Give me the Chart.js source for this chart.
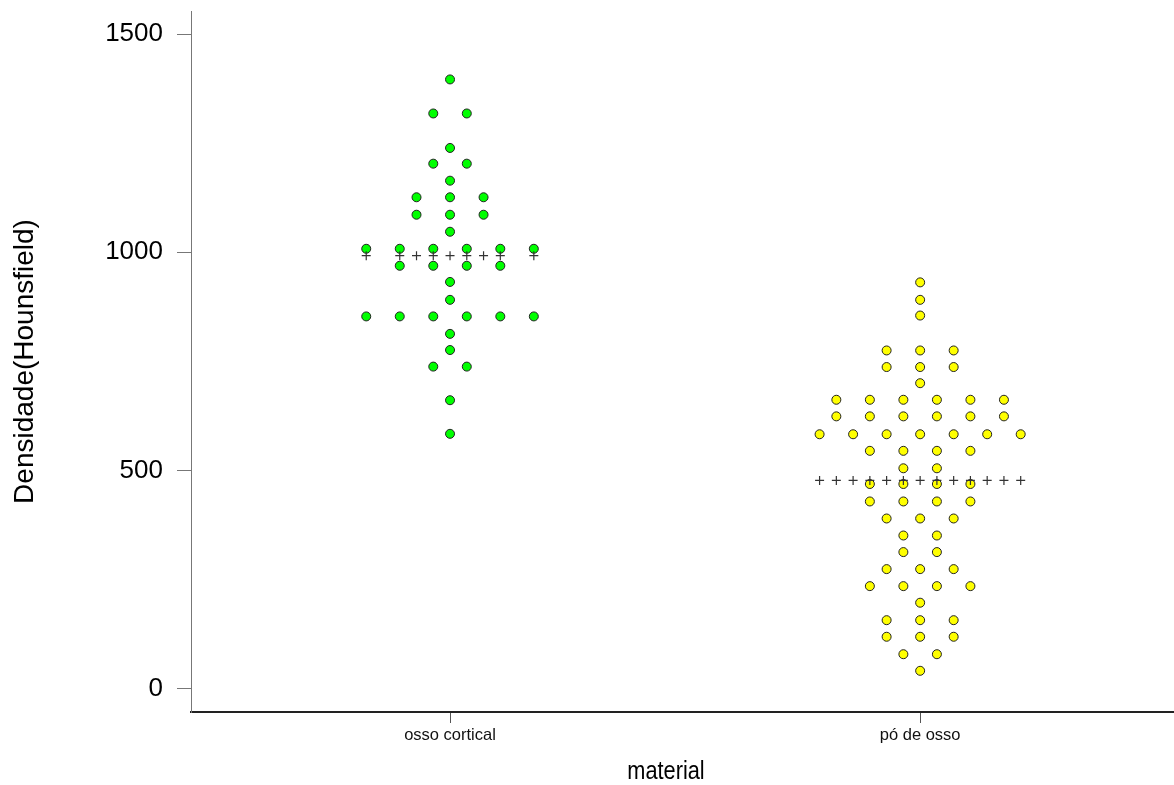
<!DOCTYPE html>
<html>
<head>
<meta charset="utf-8">
<script src="https://cdn.jsdelivr.net/npm/chart.js@4/dist/chart.umd.min.js"></script>
<style>
  html, body { margin: 0; padding: 0; background: #fff; }
  #wrap { width: 1174px; height: 785px; }
</style>
</head>
<body>
<div id="wrap"><canvas id="c" width="1174" height="785"></canvas></div>
<script>
// Densidade (Hounsfield) por material — one value per specimen
const categories = ['osso cortical', 'pó de osso'];

const ossoCortical = [
  1396, 1318, 1318, 1239, 1203, 1203, 1164,
  1126, 1126, 1126, 1086, 1086, 1086, 1047,
  1008, 1008, 1008, 1008, 1008, 1008,
  969, 969, 969, 969, 932, 891,
  853, 853, 853, 853, 853, 853,
  813, 776, 738, 738, 661, 584
];

const poDeOsso = [
  931, 891, 855, 775, 775, 775, 737, 737, 737, 700,
  662, 662, 662, 662, 662, 662,
  624, 624, 624, 624, 624, 624,
  583, 583, 583, 583, 583, 583, 583,
  545, 545, 545, 545, 505, 505,
  469, 469, 469, 469, 429, 429, 429, 429,
  390, 390, 390, 351, 351, 313, 313,
  274, 274, 274, 235, 235, 235, 235, 197,
  157, 157, 157, 119, 119, 119, 79, 79, 41
];

const yTicks = [0, 500, 1000, 1500];
const yTitle = 'Densidade(Hounsfield)';
const xTitle = 'material';

// drawing setup
const groups = [ossoCortical, poDeOsso];
const fills = ['#00ff00', '#ffff00'];
const HALF = 0.03565;   // half the gap between neighbouring dots of a row, in category units
const FONT = '"Liberation Sans", Arial, Helvetica, sans-serif';

function countRows(values) {
  const rows = new Map();
  values.forEach(v => rows.set(v, (rows.get(v) || 0) + 1));
  return rows;
}

// column slots (in half gaps) of a row of n dots centred on the category
function rowSlots(n) {
  const s = [];
  for (let k = 0; k < n; k++) s.push(2 * k - (n - 1));
  return s;
}

// equal values share a row and are spread symmetrically around the category
function swarm(values, pos) {
  const pts = [];
  countRows(values).forEach((n, v) => {
    rowSlots(n).forEach(s => pts.push({ x: pos + s * HALF, y: v }));
  });
  return pts;
}

// "+" marks at the group mean, one under every occupied dot column
function meanMarks(values, pos) {
  const mean = values.reduce((a, b) => a + b, 0) / values.length;
  const used = new Set();
  countRows(values).forEach(n => rowSlots(n).forEach(s => used.add(s)));
  return [...used].sort((a, b) => a - b).map(s => ({ x: pos + s * HALF, y: mean }));
}

const datasets = [];
groups.forEach((vals, i) => {
  datasets.push({
    label: categories[i] + ' (média)',
    data: meanMarks(vals, i + 1),
    pointStyle: 'cross',
    pointRadius: 4.5,
    borderColor: '#333',
    borderWidth: 1.2,
    order: 0
  });
  datasets.push({
    label: categories[i],
    data: swarm(vals, i + 1),
    pointStyle: 'circle',
    pointRadius: 4.5,
    backgroundColor: fills[i],
    borderColor: '#222',
    borderWidth: 1,
    order: 1
  });
});

const xTitlePlugin = {
  id: 'xTitle',
  afterDraw(chart) {
    const ctx = chart.ctx;
    ctx.save();
    ctx.font = '26.5px ' + FONT;
    ctx.fillStyle = '#000';
    ctx.textAlign = 'center';
    ctx.textBaseline = 'alphabetic';
    ctx.translate(666, 779);
    ctx.scale(0.82, 1);
    ctx.fillText(xTitle, 0, 0);
    ctx.restore();
  }
};

new Chart(document.getElementById('c'), {
  type: 'scatter',
  data: { datasets },
  plugins: [xTitlePlugin],
  options: {
    responsive: false,
    animation: false,
    events: [],
    layout: { autoPadding: false, padding: { top: 11, left: 0, right: 0, bottom: 0 } },
    plugins: { legend: { display: false }, tooltip: { enabled: false } },
    scales: {
      x: {
        type: 'linear',
        min: 0.449,
        max: 2.540,
        afterBuildTicks: s => { s.ticks = categories.map((c, i) => ({ value: i + 1 })); },
        afterFit: s => { s.height = 73; s.paddingLeft = 0; s.paddingRight = 0; },
        grid: { drawOnChartArea: false, drawTicks: true, tickLength: 11, color: '#555', lineWidth: 1 },
        border: { display: true, color: '#222', width: 2 },
        ticks: {
          callback: v => categories[v - 1],
          font: { family: FONT, size: 16.5 },
          color: '#111',
          padding: 3,
          maxRotation: 0,
          autoSkip: false
        }
      },
      y: {
        type: 'linear',
        min: -53.4,
        max: 1552.8,
        afterBuildTicks: s => { s.ticks = yTicks.map(v => ({ value: v })); },
        afterFit: s => { s.width = 191; s.paddingTop = 0; s.paddingBottom = 0; },
        grid: { drawOnChartArea: false, drawTicks: true, tickLength: 14, color: '#777', lineWidth: 1 },
        border: { display: true, color: '#777', width: 1 },
        ticks: {
          callback: v => String(v),
          font: { family: FONT, size: 26 },
          color: '#000',
          padding: 14
        },
        title: {
          display: true,
          text: yTitle,
          font: { family: FONT, size: 28 },
          color: '#000',
          padding: { top: 8, bottom: 0 }
        }
      }
    }
  }
});
</script>
</body>
</html>
